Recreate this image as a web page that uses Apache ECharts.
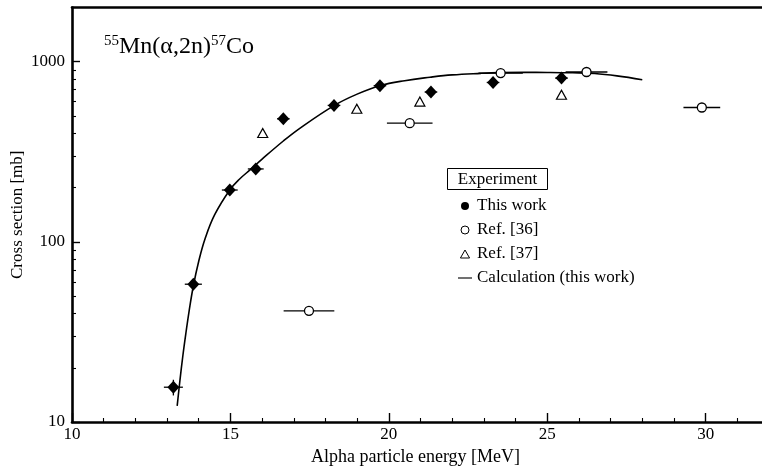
<!DOCTYPE html>
<html>
<head>
<meta charset="utf-8">
<script src="https://cdn.jsdelivr.net/npm/echarts@6/dist/echarts.min.js"></script>
<style>
  html, body { margin: 0; padding: 0; background: #fff; }
  #chart { width: 762px; height: 467px; }
</style>
</head>
<body>
<div id="chart"></div>
<script>
// 55Mn(alpha,2n)57Co excitation function

// This work (measured)
const energyThis = [13.20, 13.83, 14.98, 15.80, 16.67, 18.27, 19.72, 21.33, 23.29, 25.45];
const sigmaThis  = [15.6, 58.2, 194, 254, 482, 572, 736, 679, 767, 811];
const dEThis     = [0.30, 0.27, 0.25, 0.25, 0.20, 0.20, 0.20, 0.20, 0.20, 0.20];
const dSigmaThis = [0.10, 0.06, 0.05, 0.05, 0.05, 0.05, 0.05, 0.05, 0.05, 0.05];

// Ref. [36]
const energyRef36 = [17.48, 20.66, 23.53, 26.24, 29.88];
const sigmaRef36  = [41.4, 456, 865, 877, 557];
const dERef36     = [0.80, 0.72, 0.70, 0.66, 0.58];

// Ref. [37]
const energyRef37 = [16.02, 18.99, 20.98, 25.45];
const sigmaRef37  = [402, 548, 601, 656];

// Calculation (this work)
const energyCalc = [13.32, 13.40, 13.50, 13.60, 13.70, 13.83, 14.00, 14.20, 14.50, 14.98, 15.30, 15.62, 16.00, 16.67, 17.19, 18.27, 19.00, 19.72, 20.50, 21.30, 22.00, 22.90, 23.50, 24.30, 25.00, 25.80, 26.50, 27.20, 28.00];
const sigmaCalc  = [12.3, 16.6, 23.4, 31.6, 41.7, 56.9, 78, 104, 141, 194, 224, 251, 288, 363, 427, 571, 661, 736, 785, 820, 845, 862, 870, 873, 872, 868, 860, 835, 795];

// Axes
const xMajorTicks = [10, 15, 20, 25, 30];
const yTickLabels = [10, 100, 1000];
const yMinorTicks = [20, 30, 40, 50, 60, 70, 80, 90, 200, 300, 400, 500, 600, 700, 800, 900];
const yMin = 10, yMax = 2000;

const FONT = '"Liberation Serif", "Times New Roman", serif';
const lg = Math.log10;

function pts(xs, ys) { return xs.map((x, i) => [x, lg(ys[i])]); }

function errRows(xs, ys, dx, dyRel) {
  return xs.map((x, i) => {
    const r = dyRel ? dyRel[i] : 0;
    return [x, lg(ys[i]), x - dx[i], x + dx[i], lg(ys[i] * (1 - r)), lg(ys[i] * (1 + r))];
  });
}

function errorBars(rows, z) {
  return {
    type: 'custom',
    z: z,
    silent: true,
    data: rows,
    encode: { x: [0, 2, 3], y: [1, 4, 5] },
    renderItem: function (params, api) {
      const c = api.coord([api.value(0), api.value(1)]);
      const l = api.coord([api.value(2), api.value(1)]);
      const r = api.coord([api.value(3), api.value(1)]);
      const lo = api.coord([api.value(0), api.value(4)]);
      const hi = api.coord([api.value(0), api.value(5)]);
      const st = { stroke: '#000', lineWidth: 1.3 };
      const kids = [{ type: 'line', shape: { x1: l[0], y1: l[1], x2: r[0], y2: r[1] }, style: st }];
      if (Math.abs(hi[1] - lo[1]) > 0.5) {
        kids.push({ type: 'line', shape: { x1: c[0], y1: lo[1], x2: c[0], y2: hi[1] }, style: st });
      }
      return { type: 'group', children: kids };
    }
  };
}

const chart = echarts.init(document.getElementById('chart'), null, { renderer: 'canvas' });

chart.setOption({
  animation: false,
  backgroundColor: '#fff',
  textStyle: { fontFamily: FONT, color: '#000' },
  grid: { left: 72, right: -7, top: 7.5, bottom: 45, containLabel: false, outerBoundsMode: 'none' },
  title: {
    left: 99, top: 29,
    text: '{s|55}{m|Mn(α,2n)}{s|57}{m|Co}',
    textStyle: {
      fontWeight: 'normal',
      rich: {
        m: { fontFamily: FONT, fontSize: 24, fontWeight: 'normal', color: '#000', lineHeight: 26 },
        s: { fontFamily: FONT, fontSize: 15, fontWeight: 'normal', color: '#000', verticalAlign: 'top', lineHeight: 15 }
      }
    }
  },
  legend: {
    orient: 'vertical',
    left: 453, top: 192,
    itemWidth: 14, itemHeight: 8, itemGap: 6,
    selectedMode: false,
    textStyle: { fontFamily: FONT, fontSize: 17, color: '#000', lineHeight: 18 },
    data: [
      { name: 'This work', icon: 'circle', itemStyle: { color: '#000', borderWidth: 0 } },
      { name: 'Ref. [36]', icon: 'circle', itemStyle: { color: '#fff', borderColor: '#000', borderWidth: 1 } },
      { name: 'Ref. [37]', icon: 'path://M4,0L8,7L0,7Z', itemStyle: { color: '#fff', borderColor: '#000', borderWidth: 1 } },
      { name: 'Calculation (this work)', icon: 'path://M0,0H20V1.6H0Z', itemStyle: { color: '#000', borderWidth: 0 } }
    ]
  },
  graphic: [{
    type: 'group', left: 447, top: 168,
    children: [
      { type: 'rect', shape: { x: 0, y: 0, width: 100, height: 21 }, style: { fill: '#fff', stroke: '#000', lineWidth: 1 } },
      { type: 'text', x: 50, y: 11, style: { text: 'Experiment', font: '17px ' + FONT, fill: '#000', textAlign: 'center', textVerticalAlign: 'middle' } }
    ]
  }],
  xAxis: [{
    type: 'value', min: 10, max: 32, interval: 5, position: 'bottom',
    name: 'Alpha particle energy [MeV]', nameLocation: 'middle', nameGap: 26, nameMoveOverlap: false,
    nameTextStyle: { fontFamily: FONT, fontSize: 18, color: '#000', padding: [0, 10, 0, 0] },
    axisLine: { show: true, lineStyle: { color: '#000', width: 2.6 } },
    axisTick: { show: true, inside: true, length: 9, lineStyle: { color: '#000', width: 1.4 } },
    minorTick: { show: true, splitNumber: 5, length: 4, lineStyle: { color: '#000', width: 1.1 } },
    axisLabel: { fontFamily: FONT, fontSize: 17, color: '#000', margin: 4, showMaxLabel: false,
      formatter: v => (xMajorTicks.indexOf(v) >= 0 ? String(v) : '') },
    splitLine: { show: false }
  }, {
    type: 'value', min: 10, max: 32, position: 'top',
    axisLine: { show: true, lineStyle: { color: '#000', width: 2.6 } },
    axisTick: { show: false }, axisLabel: { show: false }, splitLine: { show: false }
  }],
  yAxis: [{
    type: 'value', min: lg(yMin), max: lg(yMax), position: 'left',
    name: 'Cross section [mb]', nameLocation: 'middle', nameGap: 46, nameMoveOverlap: false,
    nameTextStyle: { fontFamily: FONT, fontSize: 17, color: '#000' },
    axisLine: { show: true, lineStyle: { color: '#000', width: 2.6 } },
    axisTick: { show: true, inside: true, length: 8, customValues: yTickLabels.map(lg), lineStyle: { color: '#000', width: 1.4 } },
    axisLabel: { customValues: yTickLabels.map(lg), fontFamily: FONT, fontSize: 17, color: '#000', margin: 7,
      formatter: v => String(Math.round(Math.pow(10, v))) },
    splitLine: { show: false }
  }, {
    type: 'value', min: lg(yMin), max: lg(yMax), position: 'left',
    axisLine: { show: false },
    axisTick: { show: true, inside: true, length: 4, customValues: yMinorTicks.map(lg), lineStyle: { color: '#000', width: 1.1 } },
    axisLabel: { show: false }, splitLine: { show: false }
  }],
  series: [
    {
      name: 'Calculation (this work)', type: 'line', z: 2,
      data: pts(energyCalc, sigmaCalc), smooth: 0.4, showSymbol: false,
      lineStyle: { color: '#000', width: 1.6 }
    },
    errorBars(errRows(energyThis, sigmaThis, dEThis, dSigmaThis), 3),
    errorBars(errRows(energyRef36, sigmaRef36, dERef36, null), 3),
    {
      name: 'This work', type: 'scatter', z: 5,
      data: pts(energyThis, sigmaThis),
      symbol: 'diamond', symbolSize: [12, 13],
      itemStyle: { color: '#000', borderWidth: 0, opacity: 1 }
    },
    {
      name: 'Ref. [36]', type: 'scatter', z: 5,
      data: pts(energyRef36, sigmaRef36),
      symbol: 'circle', symbolSize: 9,
      itemStyle: { color: '#fff', borderColor: '#000', borderWidth: 1.3, opacity: 1 }
    },
    {
      name: 'Ref. [37]', type: 'scatter', z: 5,
      data: pts(energyRef37, sigmaRef37),
      symbol: 'triangle', symbolSize: [10, 9],
      itemStyle: { color: '#fff', borderColor: '#000', borderWidth: 1.2, opacity: 1 }
    }
  ]
});
</script>
</body>
</html>
